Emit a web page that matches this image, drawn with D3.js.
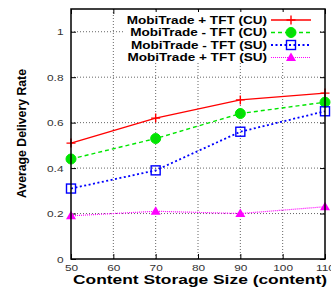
<!DOCTYPE html>
<html><head><meta charset="utf-8">
<script src="https://cdn.jsdelivr.net/npm/d3@7/dist/d3.min.js"></script>
<style>body{margin:0;background:#fff}svg{display:block}</style>
</head><body>
<script>
const xValues = [50, 70, 90, 110];
const seriesNames = ["MobiTrade + TFT (CU)", "MobiTrade - TFT (CU)", "MobiTrade - TFT (SU)", "MobiTrade + TFT (SU)"];
const cuPlus  = [0.51, 0.62, 0.70, 0.73];
const cuMinus = [0.44, 0.53, 0.64, 0.69];
const suMinus = [0.31, 0.39, 0.56, 0.65];
const suPlus  = [0.19, 0.21, 0.20, 0.23];
const xTicks = [50, 60, 70, 80, 90, 100, 110];
const yTicks = [0, 0.2, 0.4, 0.6, 0.8, 1];

const W = 331, H = 289;
const m = {l:71, r:6, t:9, b:30};
const FONT = "Liberation Sans, Arial, sans-serif";
const svg = d3.select("body").append("svg").attr("width", W).attr("height", H);
const x = d3.scaleLinear().domain([50,110]).range([m.l, W-m.r]);
const y = d3.scaleLinear().domain([0,1.1]).range([H-m.b, m.t]);

// grid
const grid = svg.append("g").attr("stroke","#555").attr("stroke-width",0.9).attr("stroke-dasharray","1,2");
xTicks.slice(1,-1).forEach(v => grid.append("line").attr("x1",x(v)).attr("x2",x(v)).attr("y1",y(0)).attr("y2",y(1.1)));
yTicks.slice(1).forEach(v => grid.append("line").attr("x1",x(50)).attr("x2",x(110)).attr("y1",y(v)).attr("y2",y(v)));

// axes with inward ticks
const fmt = d => d===0 ? "0" : (d===1 ? "1" : d3.format(".1f")(d));
const axB = svg.append("g").attr("transform",`translate(0,${y(0)})`).call(d3.axisBottom(x).tickValues(xTicks).tickSizeInner(-5).tickSizeOuter(0));
const axL = svg.append("g").attr("transform",`translate(${x(50)},0)`).call(d3.axisLeft(y).tickValues(yTicks).tickFormat(fmt).tickSizeInner(-5).tickSizeOuter(0));
const axT = svg.append("g").attr("transform",`translate(0,${y(1.1)})`).call(d3.axisTop(x).tickValues(xTicks).tickSizeInner(-5).tickSizeOuter(0).tickFormat(""));
const axR = svg.append("g").attr("transform",`translate(${x(110)},0)`).call(d3.axisRight(y).tickValues(yTicks).tickSizeInner(-5).tickSizeOuter(0).tickFormat(""));
[axB,axL,axT,axR].forEach(a => {
  a.select(".domain").remove();
  a.selectAll("line").attr("stroke","#000").attr("stroke-width",1);
});
// stretched gnuplot-like tick labels
const TS = 8.6, SX = 1.38;
axB.selectAll(".tick text").attr("x",null).attr("y",null).attr("dy",null)
  .attr("transform","translate(0,12) scale(" + SX + ",1)")
  .attr("font-family",FONT).attr("font-size",TS).attr("fill","#333").attr("text-anchor","middle");
axL.selectAll(".tick text").attr("x",null).attr("y",null).attr("dy",null)
  .attr("transform","translate(-7.5,3.1) scale(" + SX + ",1)")
  .attr("font-family",FONT).attr("font-size",TS).attr("fill","#333").attr("text-anchor","end");

// legend background
svg.append("rect").attr("x",125).attr("y",12).attr("width",195).attr("height",51).attr("fill","#fff");

const styles = [
  {data:cuPlus,  color:"#ff0000", dash:null,   w:1.4, mark:"plus"},
  {data:cuMinus, color:"#00e600", dash:"4,3",  w:1.4, mark:"circle"},
  {data:suMinus, color:"#0000ff", dash:"2,2.5",w:1.8, mark:"square"},
  {data:suPlus,  color:"#ff00ff", dash:"1,1",  w:1.2, mark:"triangle"}
];
function drawMark(g, cx, cy, s){
  if(s.mark==="plus"){
    g.append("path").attr("d",`M${cx-4.5},${cy}H${cx+4.5}M${cx},${cy-4.5}V${cy+4.5}`).attr("stroke",s.color).attr("stroke-width",1.4);
  } else if(s.mark==="circle"){
    g.append("circle").attr("cx",cx).attr("cy",cy).attr("r",5).attr("fill",s.color).attr("stroke",s.color);
    g.append("circle").attr("cx",cx).attr("cy",cy).attr("r",1.5).attr("fill","none").attr("stroke","#33aa33").attr("stroke-width",0.6);
  } else if(s.mark==="square"){
    g.append("rect").attr("x",cx-4.5).attr("y",cy-4.5).attr("width",9).attr("height",9).attr("fill","none").attr("stroke",s.color).attr("stroke-width",1.4);
  } else {
    g.append("path").attr("d",`M${cx},${cy-5}L${cx+5},${cy+3.5}L${cx-5},${cy+3.5}Z`).attr("fill",s.color);
  }
}
const line = d3.line().x((d,i)=>x(xValues[i])).y(d=>y(d));
styles.forEach(s => {
  svg.append("path").datum(s.data).attr("d",line).attr("fill","none").attr("stroke",s.color).attr("stroke-width",s.w).attr("stroke-dasharray",s.dash);
  const g = svg.append("g");
  s.data.forEach((d,i)=>drawMark(g, x(xValues[i]), y(d), s));
});

// frame
svg.append("rect").attr("x",x(50)).attr("y",y(1.1)).attr("width",x(110)-x(50)).attr("height",y(0)-y(1.1)).attr("fill","none").attr("stroke","#000").attr("stroke-width",1.5);

// legend
const rows = [20, 32.5, 45, 57.5];
styles.forEach((s,i) => {
  svg.append("text").attr("transform",`translate(267,${rows[i]+3.8}) scale(1.29,1)`).attr("text-anchor","end")
    .attr("font-family",FONT).attr("font-weight","bold").attr("font-size",10.5).attr("fill","#000")
    .text(seriesNames[i]);
  svg.append("line").attr("x1",271).attr("x2",311).attr("y1",rows[i]).attr("y2",rows[i]).attr("stroke",s.color).attr("stroke-width",s.w).attr("stroke-dasharray",s.dash);
  drawMark(svg.append("g"), 291, rows[i], s);
});

// axis titles
svg.append("text").attr("x",200).attr("y",284).attr("text-anchor","middle")
  .attr("font-family",FONT).attr("font-weight","bold").attr("font-size",12.5)
  .attr("textLength",254).attr("lengthAdjust","spacingAndGlyphs").text("Content Storage Size (content)");
svg.append("text").attr("transform","translate(25.5,133.5) rotate(-90)").attr("text-anchor","middle")
  .attr("font-family","Liberation Sans Narrow, Liberation Sans, Arial, sans-serif").attr("font-weight","bold").attr("font-size",13)
  .attr("textLength",129).attr("lengthAdjust","spacingAndGlyphs").text("Average Delivery Rate");
</script>
</body></html>
